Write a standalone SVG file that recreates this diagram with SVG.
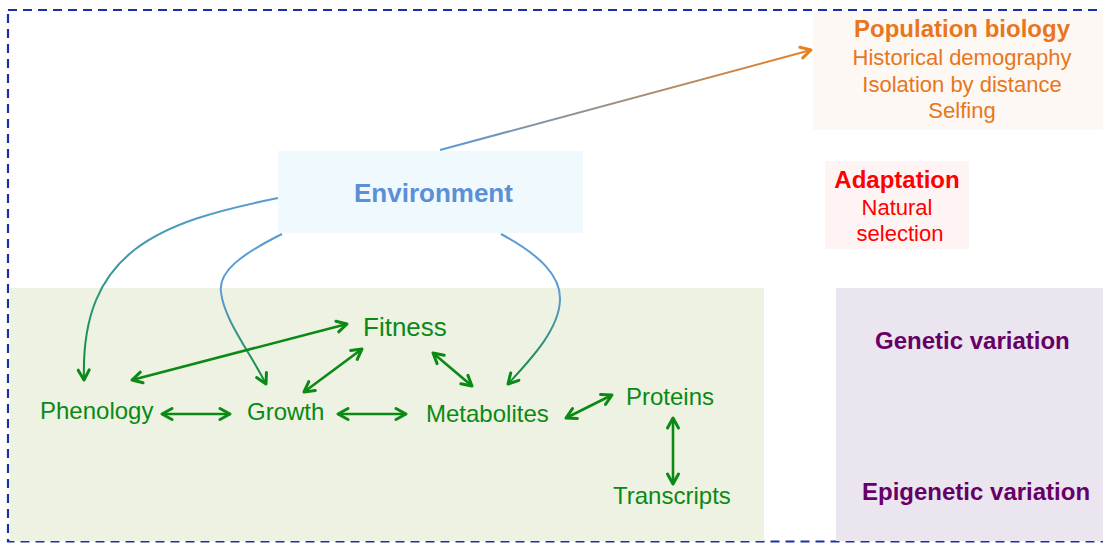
<svg xmlns="http://www.w3.org/2000/svg" width="1103" height="543" viewBox="0 0 1103 543">
  <style>
    .lbl { font-family: "Liberation Sans", Arial, sans-serif; }
    .bold { font-weight: bold; }
    .mid { text-anchor: middle; }
    .green { fill: #0a8a14; font-size: 24px; }
    .big { font-size: 26px; }
    .orange { fill: #e8761c; font-size: 22px; }
    .red { fill: #ff0000; font-size: 22px; }
    .head { font-size: 24px; font-weight: bold; }
    .purple { fill: #660066; font-size: 24px; font-weight: bold; }
    .link { fill: none; stroke: #0a8a14; stroke-width: 2.6; marker-start: url(#ah); marker-end: url(#ah); }
    .env { fill: none; stroke-width: 2; marker-end: url(#ah); }
  </style>
  <defs>
    <marker id="ah" viewBox="0 0 14 14" refX="12" refY="7" markerWidth="14" markerHeight="14" markerUnits="userSpaceOnUse" orient="auto-start-reverse" overflow="visible">
      <path d="M2,1.5 L12,7 L2,12.5" fill="none" stroke="#0a8a14" stroke-width="3" stroke-linecap="round" stroke-linejoin="round"/>
    </marker>
    <marker id="ahOrange" viewBox="0 0 14 14" refX="12" refY="7" markerWidth="14" markerHeight="14" markerUnits="userSpaceOnUse" orient="auto" overflow="visible">
      <path d="M2,1.5 L12,7 L2,12.5" fill="none" stroke="#e8801e" stroke-width="3" stroke-linecap="round" stroke-linejoin="round"/>
    </marker>
    <linearGradient id="gPop" gradientUnits="userSpaceOnUse" x1="440" y1="150" x2="812" y2="50">
      <stop offset="0" stop-color="#5b9bd5"/>
      <stop offset="1" stop-color="#e8801e"/>
    </linearGradient>
    <linearGradient id="gPhen" gradientUnits="userSpaceOnUse" x1="0" y1="198" x2="0" y2="380">
      <stop offset="0" stop-color="#5b9bd5"/>
      <stop offset="0.3" stop-color="#3f9aa8"/>
      <stop offset="1" stop-color="#0b8d2e"/>
    </linearGradient>
    <linearGradient id="gGrow" gradientUnits="userSpaceOnUse" x1="0" y1="234" x2="0" y2="384">
      <stop offset="0" stop-color="#5b9bd5"/>
      <stop offset="0.4" stop-color="#5b9bd5"/>
      <stop offset="1" stop-color="#0b8d2e"/>
    </linearGradient>
  </defs>

  <rect width="1103" height="543" fill="#ffffff"/>

  <!-- outer dashed frame -->
  <rect x="8" y="10" width="1110" height="531.5" fill="none" stroke="#1a2fa8" stroke-width="2.2" stroke-dasharray="9,6"/>

  <!-- organism-level panel -->
  <rect id="organism-panel" x="10" y="288" width="754" height="253" fill="#eef2e3"/>

  <g id="variation">
    <rect x="836" y="288" width="267" height="253" fill="#ebe5f0"/>
    <text class="lbl purple" x="875" y="349">Genetic variation</text>
    <text class="lbl purple" x="862" y="500">Epigenetic variation</text>
  </g>

  <g id="population-biology">
    <rect x="813" y="11" width="290" height="119" fill="#fdf8f3"/>
    <text class="lbl orange head mid" x="962" y="37">Population biology</text>
    <text class="lbl orange mid" x="962" y="65">Historical demography</text>
    <text class="lbl orange mid" x="962" y="91.5">Isolation by distance</text>
    <text class="lbl orange mid" x="962" y="118">Selfing</text>
  </g>

  <g id="adaptation">
    <rect x="825" y="161" width="144" height="88" fill="#fff4f4"/>
    <text class="lbl red head mid" x="897" y="188">Adaptation</text>
    <text class="lbl red mid" x="897" y="215">Natural</text>
    <text class="lbl red mid" x="900" y="241">selection</text>
  </g>

  <g id="environment">
    <rect x="278" y="151" width="305" height="82" fill="#f0f9fd"/>
    <text class="lbl bold big" x="354" y="202" fill="#5b8fd6">Environment</text>
  </g>

  <g id="fitness"><text class="lbl green big" x="363" y="336">Fitness</text></g>
  <g id="phenology"><text class="lbl green" x="40" y="419">Phenology</text></g>
  <g id="growth"><text class="lbl green" x="247" y="420">Growth</text></g>
  <g id="metabolites"><text class="lbl green" x="426" y="422">Metabolites</text></g>
  <g id="proteins"><text class="lbl green" x="626" y="405">Proteins</text></g>
  <g id="transcripts"><text class="lbl green" x="613" y="504">Transcripts</text></g>

  <g id="connectors">
    <!-- environment influences -->
    <path class="env" d="M440,150 L811,50" stroke="url(#gPop)" stroke-width="2.2" style="marker-end:url(#ahOrange)"/>
    <path class="env" d="M278,198 C160,222 80,250 84,380" stroke="url(#gPhen)"/>
    <path class="env" d="M282,234 C240,255 218,272 221,292 C224,320 250,352 266,384" stroke="url(#gGrow)"/>
    <path class="env" d="M501,234 C540,255 561,276 560,300 C559,330 530,360 508,384" stroke="url(#gGrow)"/>
    <!-- reciprocal links between traits -->
    <path class="link" d="M132,380 L347,324"/>
    <path class="link" d="M162,414 L230,414"/>
    <path class="link" d="M304,392 L362,349"/>
    <path class="link" d="M338,414 L406,414"/>
    <path class="link" d="M433,353 L472,386"/>
    <path class="link" d="M566,418 L612,395"/>
    <path class="link" d="M673,418 L673,484"/>
  </g>
</svg>
